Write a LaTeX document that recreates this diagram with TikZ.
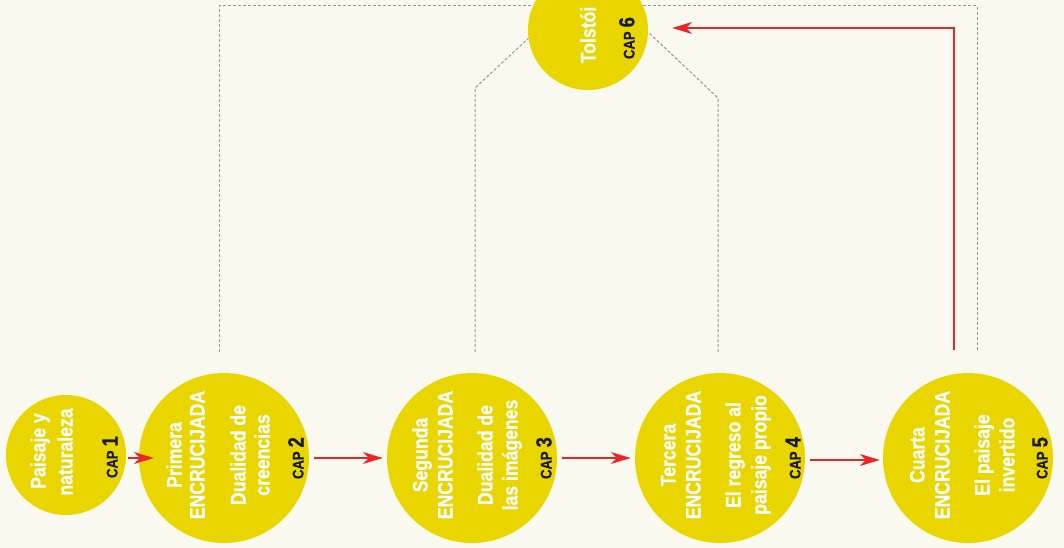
\documentclass[tikz,border=0pt]{standalone}
\usepackage{fontspec}
\usetikzlibrary{arrows.meta}
\newfontfamily\cond[FakeStretch=0.84,BoldFeatures={FakeBold=0.6}]{Liberation Sans}
\definecolor{bgc}{RGB}{250,249,240}
\definecolor{yel}{RGB}{233,213,0}
\definecolor{arr}{RGB}{232,38,42}
\definecolor{dsh}{RGB}{150,150,150}
\begin{document}
\begin{tikzpicture}[x=1pt,y=-1pt,
  bubble/.style={circle, fill=yel, inner sep=0, draw=none},
  big/.style={bubble, minimum size=170pt},
  small/.style={bubble, minimum size=120pt},
  wt/.style={text=white, font=\cond\bfseries\fontsize{21}{22}\selectfont, rotate=90, inner sep=0, text height=15pt, text depth=0pt},
  capl/.style={text=black!90, font=\cond\bfseries, rotate=90, inner sep=0, text height=15pt, text depth=0pt},
  redarrow/.style={draw=arr, line width=1.2pt, -{Stealth[length=20pt,width=12pt,inset=6pt]}},
  dashline/.style={draw=dsh, line width=1pt, dash pattern=on 3pt off 2pt}]
\fill[bgc] (0,0) rectangle (1064,548);
\useasboundingbox (0,0) rectangle (1064,548);
\clip (0,0) rectangle (1064,548);
\newcommand\capt[1]{{\fontsize{15.5}{15.5}\selectfont CAP}\hspace{4pt}{\fontsize{22}{22}\selectfont #1}}
% circle positions
\coordinate (p1) at (66,455);
\coordinate (p2) at (224,458);
\coordinate (p3) at (472,458);
\coordinate (p4) at (720,458);
\coordinate (p5) at (968,458);
\coordinate (p6) at (588,30);
% dashed connectors
\coordinate (dl) at (219,352);
\coordinate (dlt) at (219,6);
\coordinate (drt) at (977,6);
\coordinate (dr) at (977,352);
\coordinate (d3) at (475,352);
\coordinate (k3) at (475,88);
\coordinate (d4) at (718,352);
\coordinate (k4) at (718,98);
\draw[dashline] (dl) -- (dlt) -- (drt) -- (dr);
\node[small] (c6) at (p6) {};
\draw[dashline] (d3) -- (k3) -- (c6.188);
\draw[dashline] (d4) -- (k4) -- (c6.358);
% circles
\node[small] (c1) at (p1) {};
\node[big] (c2) at (p2) {};
\node[big] (c3) at (p3) {};
\node[big] (c4) at (p4) {};
\node[big] (c5) at (p5) {};
% texts
\node[wt] (t1a) at ([shift={(-28,-4)}]p1) {Paisaje y};
\node[wt] (t1b) at ([shift={(-1,-3)}]p1) {naturaleza};
\node[capl] (k1) at ([shift={(44,2)}]p1) {\capt{1}};
\node[wt] (t2a) at ([shift={(-50,-3)}]p2) {Primera};
\node[wt] (t2b) at ([shift={(-27,-3)}]p2) {ENCRUCIJADA};
\node[wt] (t2c) at ([shift={(14,-3)}]p2) {Dualidad de};
\node[wt] (t2d) at ([shift={(38,-3)}]p2) {creencias};
\node[capl] (k2) at ([shift={(72,0)}]p2) {\capt{2}};
\node[wt] (t3a) at ([shift={(-52,-3)}]p3) {Segunda};
\node[wt] (t3b) at ([shift={(-27,-3)}]p3) {ENCRUCIJADA};
\node[wt] (t3c) at ([shift={(13,-3)}]p3) {Dualidad de};
\node[wt] (t3d) at ([shift={(38,-3)}]p3) {las imágenes};
\node[capl] (k3n) at ([shift={(72,0)}]p3) {\capt{3}};
\node[wt] (t4a) at ([shift={(-52,-3)}]p4) {Tercera};
\node[wt] (t4b) at ([shift={(-27,-3)}]p4) {ENCRUCIJADA};
\node[wt] (t4c) at ([shift={(13,-3)}]p4) {El regreso al};
\node[wt] (t4d) at ([shift={(39,-3)}]p4) {paisaje propio};
\node[capl] (k4n) at ([shift={(73,0)}]p4) {\capt{4}};
\node[wt] (t5a) at ([shift={(-51,-3)}]p5) {Cuarta};
\node[wt] (t5b) at ([shift={(-26,-3)}]p5) {ENCRUCIJADA};
\node[wt] (t5c) at ([shift={(14,-3)}]p5) {El paisaje};
\node[wt] (t5d) at ([shift={(39,-3)}]p5) {invertido};
\node[capl] (k5n) at ([shift={(72,0)}]p5) {\capt{5}};
\node[wt] (t6a) at ([shift={(0,5)}]p6) {Tolstói};
\node[capl] (k6n) at ([shift={(39,8)}]p6) {\capt{6}};
% red arrows
\draw[redarrow] ([xshift=2pt]c1.east |- c2.west) -- ([xshift=15pt]c2.west);
\draw[redarrow] ([xshift=5pt]c2.east) -- ([xshift=-4pt]c3.west);
\draw[redarrow] ([xshift=5pt]c3.east) -- ([xshift=-4pt]c4.west);
\draw[redarrow] ([xshift=5pt,yshift=-2pt]c4.east) -- ([xshift=-3pt,yshift=-2pt]c5.west);
\draw[redarrow] ([xshift=-14pt,yshift=23pt]c5.north) |- ([xshift=24pt,yshift=2pt]c6.east);
\end{tikzpicture}
\end{document}
